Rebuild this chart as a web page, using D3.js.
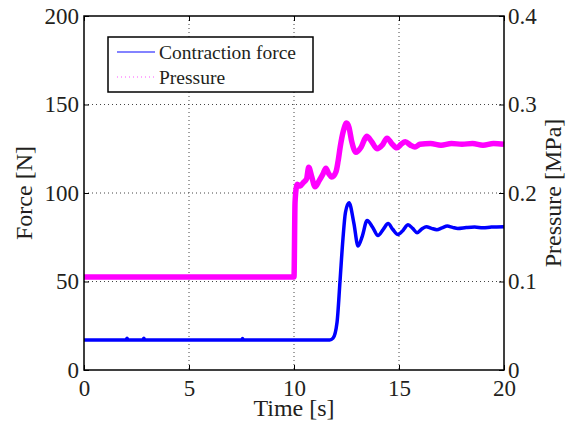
<!DOCTYPE html>
<html>
<head>
<meta charset="utf-8">
<script src="https://cdn.jsdelivr.net/npm/d3@7"></script>
<style>
  body { margin: 0; background: #fff; }
  svg { display: block; }
  text { font-family: "Liberation Serif", "Times New Roman", serif; fill: #231f20; }
</style>
</head>
<body>
<svg id="chart" width="573" height="426"></svg>
<script>
// contraction force [N]
var forceTime = [0, 2, 2.05, 2.1, 2.8, 2.85, 2.9, 7.5, 7.55, 7.6, 11.7, 11.86, 12.05, 12.19, 12.33, 12.45, 12.62, 12.85, 13.05, 13.25, 13.48, 13.75, 14.0, 14.25, 14.48, 14.7, 14.95, 15.2, 15.43, 15.65, 15.86, 16.1, 16.3, 16.55, 16.8, 17.05, 17.3, 17.55, 17.8, 18.2, 18.6, 19.0, 19.4, 20];
var forceVal = [17, 17, 18, 17, 17, 18, 17, 17, 17.8, 17, 17, 18, 27, 50, 74, 89, 94.5, 83, 70, 75.5, 84.4, 80.5, 76, 79.5, 82.7, 79.5, 76.5, 79, 82, 80, 77.6, 79.8, 81, 80, 79.3, 80.3, 81.3, 80.6, 80, 80.5, 80.8, 80.3, 80.8, 81];

// pressure [MPa]
var pressTime = [0, 10.0, 10.05, 10.15, 10.3, 10.45, 10.6, 10.7, 10.85, 11.0, 11.2, 11.37, 11.52, 11.65, 11.8, 12.0, 12.1, 12.2, 12.35, 12.5, 12.62, 12.75, 12.95, 13.2, 13.46, 13.7, 13.95, 14.2, 14.43, 14.65, 14.9, 15.1, 15.3, 15.55, 15.76, 16.0, 16.5, 17.0, 17.5, 18, 18.5, 19, 19.5, 20];
var pressVal = [0.105, 0.105, 0.19, 0.21, 0.208, 0.212, 0.216, 0.229, 0.218, 0.207, 0.214, 0.221, 0.228, 0.222, 0.218, 0.224, 0.236, 0.252, 0.27, 0.279, 0.274, 0.258, 0.246, 0.252, 0.264, 0.258, 0.25, 0.254, 0.262, 0.256, 0.251, 0.255, 0.258, 0.254, 0.252, 0.255, 0.256, 0.254, 0.256, 0.255, 0.256, 0.254, 0.256, 0.255];

var xTicks = [0, 5, 10, 15, 20];
var forceTicks = [0, 50, 100, 150, 200];
var pressTicks = [0, 0.1, 0.2, 0.3, 0.4];
var legendLabels = ['Contraction force', 'Pressure'];

var svg = d3.select('#chart');
var plotL = 84, plotR = 504, plotT = 16, plotB = 370;

var x = d3.scaleLinear().domain([0, 20]).range([plotL, plotR]);
var yF = d3.scaleLinear().domain([0, 200]).range([plotB, plotT]);
var yP = d3.scaleLinear().domain([0, 0.4]).range([plotB, plotT]);

// grid
var grid = svg.append('g').attr('stroke', '#444').attr('stroke-width', 1).attr('stroke-dasharray', '1,3');
grid.selectAll('.gx').data(xTicks.slice(1, -1)).enter().append('line')
	.attr('x1', function(d){ return x(d); }).attr('x2', function(d){ return x(d); })
	.attr('y1', plotT).attr('y2', plotB);
grid.selectAll('.gy').data(forceTicks.slice(1, -1)).enter().append('line')
	.attr('x1', plotL).attr('x2', plotR)
	.attr('y1', function(d){ return yF(d); }).attr('y2', function(d){ return yF(d); });

// data lines
var forceLine = d3.line()
	.x(function(d){ return x(d[0]); })
	.y(function(d){ return yF(d[1]); })
	.curve(d3.curveMonotoneX);
var pressLine = d3.line()
	.x(function(d){ return x(d[0]); })
	.y(function(d){ return yP(d[1]); })
	.curve(d3.curveMonotoneX);

svg.append('path')
	.datum(d3.zip(pressTime, pressVal))
	.attr('d', pressLine)
	.attr('fill', 'none').attr('stroke', '#ff00ff').attr('stroke-width', 5.5);

svg.append('path')
	.datum(d3.zip(forceTime, forceVal))
	.attr('d', forceLine)
	.attr('fill', 'none').attr('stroke', '#0000ff').attr('stroke-width', 3.5);

// axes (ticks inward, MATLAB box)
svg.append('g').attr('transform', 'translate(0,' + plotB + ')')
	.call(d3.axisBottom(x).tickValues(xTicks).tickSizeInner(-5).tickSizeOuter(0).tickPadding(10))
	.call(styleAxis);
svg.append('g').attr('transform', 'translate(0,' + plotT + ')')
	.call(d3.axisTop(x).tickValues(xTicks).tickSizeInner(-5).tickSizeOuter(0).tickFormat(''))
	.call(styleAxis);
svg.append('g').attr('transform', 'translate(' + plotL + ',0)')
	.call(d3.axisLeft(yF).tickValues(forceTicks).tickSizeInner(-5).tickSizeOuter(0).tickPadding(5))
	.call(styleAxis);
svg.append('g').attr('transform', 'translate(' + plotR + ',0)')
	.call(d3.axisRight(yP).tickValues(pressTicks).tickSizeInner(-5).tickSizeOuter(0).tickPadding(4)
		.tickFormat(function(d){ return d === 0 ? '0' : d3.format('.1f')(d); }))
	.call(styleAxis);

function styleAxis(g) {
	g.select('.domain').remove();
	g.selectAll('line').attr('stroke', '#000').attr('stroke-width', 1);
	g.selectAll('text').attr('font-size', 23).attr('fill', '#231f20')
		.attr('font-family', '"Liberation Serif", serif');
}

svg.append('rect')
	.attr('x', plotL).attr('y', plotT).attr('width', plotR - plotL).attr('height', plotB - plotT)
	.attr('fill', 'none').attr('stroke', '#000').attr('stroke-width', 1.5);

// axis labels
svg.append('text').attr('x', x(10)).attr('y', 416).attr('text-anchor', 'middle')
	.attr('font-size', 24).text('Time [s]');
svg.append('text').attr('transform', 'translate(32,' + (plotT + plotB) / 2 + ') rotate(-90)')
	.attr('text-anchor', 'middle').attr('font-size', 24).text('Force [N]');
svg.append('text').attr('transform', 'translate(561,' + (plotT + plotB) / 2 + ') rotate(-90)')
	.attr('text-anchor', 'middle').attr('font-size', 24).text('Pressure [MPa]');

// legend
var legend = svg.append('g');
legend.append('rect').attr('x', 108).attr('y', 37).attr('width', 205).attr('height', 55)
	.attr('fill', '#fff').attr('stroke', '#000').attr('stroke-width', 1.5);
legend.append('line').attr('x1', 117).attr('x2', 155).attr('y1', 52).attr('y2', 52)
	.attr('stroke', '#5a5aff').attr('stroke-width', 1.5);
legend.append('line').attr('x1', 117).attr('x2', 155).attr('y1', 77).attr('y2', 77)
	.attr('stroke', '#ff55ff').attr('stroke-width', 1).attr('stroke-dasharray', '1,3');
legend.selectAll('.lt').data(legendLabels).enter().append('text')
	.attr('x', 159).attr('y', function(d, i){ return 59 + i * 25; })
	.attr('font-size', 19.5).text(function(d){ return d; });
</script>
</body>
</html>
